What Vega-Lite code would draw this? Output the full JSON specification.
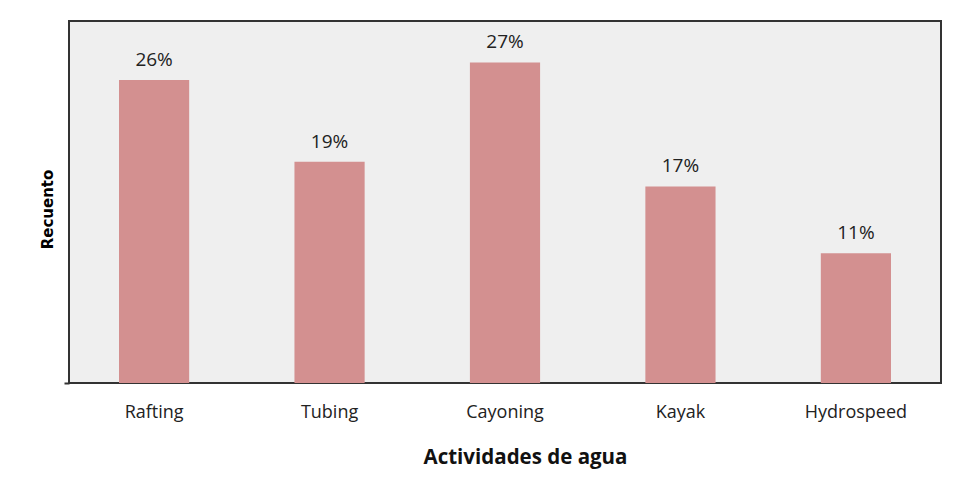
{
  "$schema": "https://vega.github.io/schema/vega-lite/v6.json",
  "width": 872,
  "height": 362,
  "autosize": {"type": "none"},
  "padding": {"left": 69, "top": 21, "right": 13, "bottom": 102},
  "background": "#ffffff",
  "config": {
    "view": {"fill": "#efefef", "stroke": "#333333", "strokeWidth": 2},
    "font": "Open Sans"
  },
  "data": {
    "values": [
      {"actividad": "Rafting", "porcentaje": 25.9, "etiqueta": "26%"},
      {"actividad": "Tubing", "porcentaje": 18.9, "etiqueta": "19%"},
      {"actividad": "Cayoning", "porcentaje": 27.4, "etiqueta": "27%"},
      {"actividad": "Kayak", "porcentaje": 16.8, "etiqueta": "17%"},
      {"actividad": "Hydrospeed", "porcentaje": 11.1, "etiqueta": "11%"}
    ]
  },
  "encoding": {
    "x": {
      "field": "actividad",
      "type": "nominal",
      "sort": null,
      "scale": {"paddingInner": 0.6, "paddingOuter": 0.285},
      "axis": {
        "title": "Actividades de agua",
        "titleFont": "Open Sans",
        "titleFontSize": 20.5,
        "titleFontWeight": "bold",
        "titleColor": "#111111",
        "titlePadding": 26,
        "titleX": 456,
        "labelAngle": 0,
        "labelFontSize": 18,
        "labelColor": "#222222",
        "labelPadding": 20,
        "ticks": false,
        "domain": false
      }
    },
    "y": {
      "field": "porcentaje",
      "type": "quantitative",
      "scale": {"domain": [0, 30.94], "nice": false},
      "axis": {
        "title": "Recuento",
        "titleFont": "DejaVu Sans",
        "titleFontSize": 15,
        "titleFontWeight": "bold",
        "titleColor": "#000000",
        "titlePadding": 8,
        "titleY": 188,
        "values": [0],
        "labels": false,
        "tickSize": 5,
        "tickColor": "#333333",
        "tickWidth": 2,
        "domain": false,
        "grid": false
      }
    }
  },
  "layer": [
    {"mark": {"type": "bar", "color": "#d39090"}},
    {
      "mark": {"type": "text", "baseline": "bottom", "dy": -10, "fontSize": 19, "color": "#222222"},
      "encoding": {"text": {"field": "etiqueta"}}
    }
  ]
}
